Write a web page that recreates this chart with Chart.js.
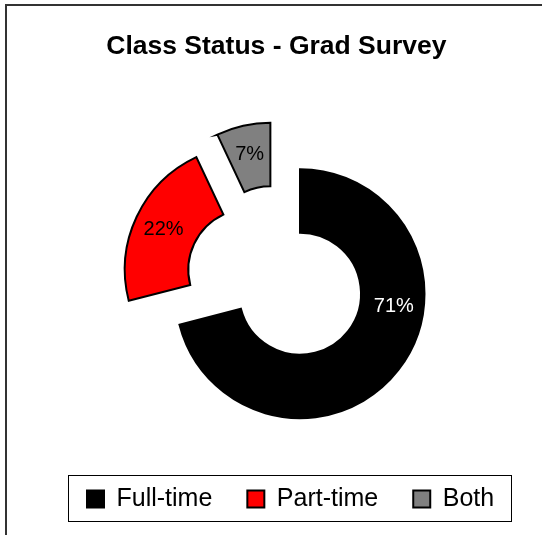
<!DOCTYPE html>
<html><head><meta charset="utf-8">
<script src="https://cdn.jsdelivr.net/npm/chart.js@4/dist/chart.umd.min.js"></script>
<style>html,body{margin:0;padding:0;background:#fff;overflow:hidden}</style>
</head><body>
<canvas id="c" width="548" height="535"></canvas>
<script>
// ---- data ----
const categories = ['Full-time', 'Part-time', 'Both'];
const percentValues = [71, 22, 7];
const sliceColors = ['#000000', '#FF0000', '#808080'];
const titleText = 'Class Status - Grad Survey';

const FONT = "'Liberation Sans', Arial, Helvetica, sans-serif";

function explodeShift(arc, i, opts) {
  const d = (opts.distance && opts.distance[i]) || 0;
  const turn = ((opts.turnDeg && opts.turnDeg[i]) || 0) * Math.PI / 180;
  const a = (arc.startAngle + arc.endAngle) / 2 + turn;
  return { dx: Math.cos(a) * d, dy: Math.sin(a) * d };
}

// left spacer box so the ring sits where it sits in the original
const spacerPlugin = {
  id: 'spacer',
  beforeInit(chart) {
    const box = {
      position: 'left', weight: 100, fullSize: false, options: {},
      width: 0, height: 0, left: 0, top: 0, right: 0, bottom: 0,
      isHorizontal() { return false; },
      update(maxWidth, maxHeight) {
        this.width = chart.config.options.plugins.spacer.width;
        this.height = maxHeight;
      },
      draw() {}
    };
    if (Chart.layouts && Chart.layouts.addBox) {
      Chart.layouts.addBox(chart, box);
    } else {
      box._layers = () => [{ z: 0, draw() {} }];
      (chart.boxes = chart.boxes || []).push(box);
    }
  }
};

// exploded slices
const explodePlugin = {
  id: 'explode',
  beforeDatasetDraw(chart, args, opts) {
    const ctx = chart.ctx;
    args.meta.data.forEach((arc, i) => {
      const s = explodeShift(arc, i, opts);
      ctx.save();
      ctx.translate(s.dx, s.dy);
      arc.draw(ctx);
      ctx.restore();
    });
    return false;
  }
};

// percentage labels inside the slices
const sliceLabelPlugin = {
  id: 'sliceLabels',
  afterDatasetsDraw(chart, args, opts) {
    const ctx = chart.ctx;
    const ex = chart.options.plugins.explode;
    const meta = chart.getDatasetMeta(0);
    ctx.save();
    ctx.font = opts.size + 'px ' + FONT;
    ctx.textAlign = 'center';
    ctx.textBaseline = 'middle';
    meta.data.forEach((arc, i) => {
      const s = explodeShift(arc, i, ex);
      const a = arc.startAngle + opts.angleFraction[i] * (arc.endAngle - arc.startAngle);
      const r = (arc.innerRadius + arc.outerRadius) / 2 + opts.radialShift;
      ctx.fillStyle = opts.colors[i];
      ctx.fillText(percentValues[i] + '%', arc.x + s.dx + Math.cos(a) * r, arc.y + s.dy + Math.sin(a) * r);
    });
    ctx.restore();
  }
};

// page frame and legend border
const framePlugin = {
  id: 'frame',
  beforeDraw(chart) {
    const ctx = chart.ctx;
    ctx.save();
    ctx.fillStyle = '#ffffff';
    ctx.fillRect(0, 0, chart.width, chart.height);
    ctx.strokeStyle = '#333333';
    ctx.lineWidth = 2;
    ctx.strokeRect(6, 5, 700, 700);
    ctx.restore();
  },
  afterDraw(chart) {
    const lg = chart.legend;
    if (!lg || !lg.legendHitBoxes || !lg.legendHitBoxes.length) return;
    const hb = lg.legendHitBoxes;
    const first = hb[0], last = hb[hb.length - 1];
    const left = Math.round(first.left - 19) + 0.5;
    const right = Math.round(last.left + last.width + 17) + 0.5;
    const top = Math.round(first.top - 11.5) + 0.5;
    const bottom = Math.round(first.top + first.height + 9) + 0.5;
    const ctx = chart.ctx;
    ctx.save();
    ctx.strokeStyle = '#000000';
    ctx.lineWidth = 1;
    ctx.strokeRect(left, top, right - left, bottom - top);
    ctx.restore();
  }
};

new Chart(document.getElementById('c'), {
  type: 'doughnut',
  data: {
    labels: categories,
    datasets: [{
      data: percentValues,
      backgroundColor: sliceColors,
      borderColor: '#000000',
      borderWidth: 2,
      borderJoinStyle: 'miter'
    }]
  },
  options: {
    responsive: false,
    animation: false,
    events: [],
    rotation: 0,
    radius: 124.5,
    cutout: '49%',
    layout: { padding: { left: 4.8, right: 0, top: 0, bottom: 13.5 } },
    plugins: {
      spacer: { width: 47.2 },
      explode: { distance: [0, 56, 55], turnDeg: [0, 0, -20] },
      sliceLabels: { size: 20, colors: ['#FFFFFF', '#000000', '#000000'], angleFraction: [0.383, 0.5, 0.5], radialShift: 2 },
      tooltip: { enabled: false },
      title: {
        display: true,
        text: titleText,
        color: '#000000',
        font: { family: FONT, size: 26.5, weight: 'bold', lineHeight: 1.2 },
        padding: { top: 31, bottom: 73 }
      },
      legend: {
        display: true,
        position: 'bottom',
        align: 'start',
        fullSize: false,
        labels: {
          color: '#000000',
          font: { family: FONT, size: 25 },
          boxWidth: 17,
          boxHeight: 17,
          padding: 35
        }
      }
    }
  },
  plugins: [spacerPlugin, explodePlugin, sliceLabelPlugin, framePlugin]
});
</script>
</body></html>
